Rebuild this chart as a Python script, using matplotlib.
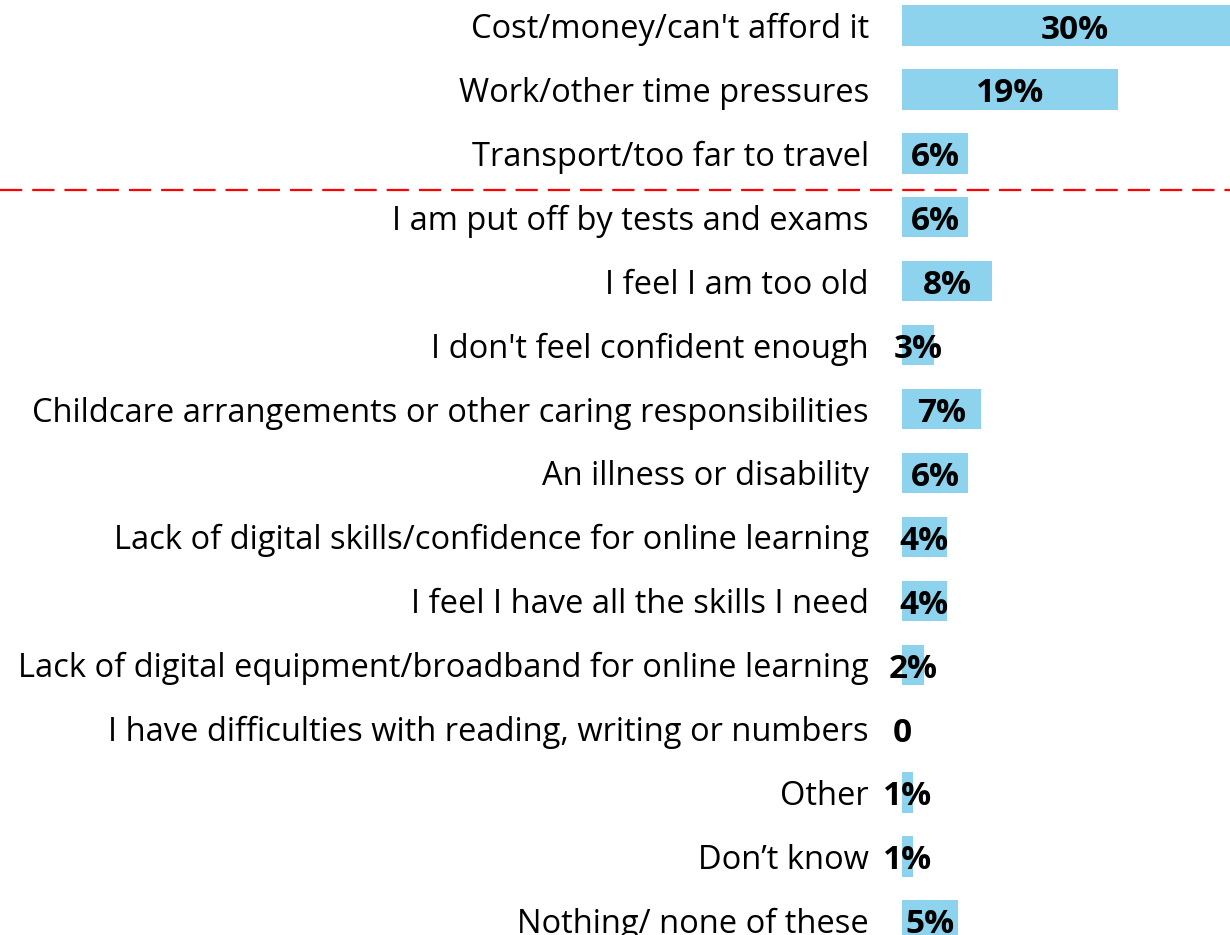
import matplotlib.pyplot as plt
import matplotlib.transforms as mtransforms
from matplotlib.lines import Line2D

plt.rcParams['font.family'] = ['Open Sans', 'DejaVu Sans']

#categories top to bottom
categories = ["Cost/money/can't afford it",
              "Work/other time pressures",
              "Transport/too far to travel",
              "I am put off by tests and exams",
              "I feel I am too old",
              "I don't feel confident enough",
              "Childcare arrangements or other caring responsibilities",
              "An illness or disability",
              "Lack of digital skills/confidence for online learning",
              "I feel I have all the skills I need",
              "Lack of digital equipment/broadband for online learning",
              "I have difficulties with reading, writing or numbers",
              "Other",
              "Don\u2019t know",
              "Nothing/ none of these"]
#bar lengths (percent)
values = [30.4, 19.0, 5.8, 5.8, 7.9, 2.8, 6.9, 5.8, 3.9, 3.9, 1.9, 0, 0.9, 0.9, 4.9]
#value labels as printed
value_labels = ['30%', '19%', '6%', '6%', '8%', '3%', '7%', '6%', '4%', '4%', '2%', '0', '1%', '1%', '5%']

fig = plt.figure(figsize=(12.3, 9.35), dpi=100)
#axes starts at the bar origin and runs off the right edge
ax = fig.add_axes([902.3 / 1230, 0, 1 - 902.3 / 1230, 1])

y = list(range(len(categories)))
ax.barh(y, values, height=0.63, color='#8DD3EE', zorder=2)

for yi, v, lab in zip(y, values, value_labels):
    ax.text(v / 2, yi + 0.07, lab, ha='center', va='center', fontsize=24,
            fontweight='bold', color='black', zorder=3)

ax.set_xlim(0, (1230 - 902.3) / 11.35)
ax.set_ylim(14.23, -0.40)
ax.set_yticks(y)
ax.set_yticklabels(categories, fontsize=23.5, color='black')
ax.tick_params(axis='y', length=0, pad=24)
ax.set_xticks([])
for s in ax.spines.values():
    s.set_visible(False)

#red dashed separator across the whole figure
trans = mtransforms.blended_transform_factory(fig.transFigure, ax.transData)
fig.add_artist(Line2D([0, 1], [2.57, 2.57], transform=trans, color='red',
                      linewidth=1.6, linestyle=(0, (10, 4.5))))

fig.savefig('out.png', dpi=100)
